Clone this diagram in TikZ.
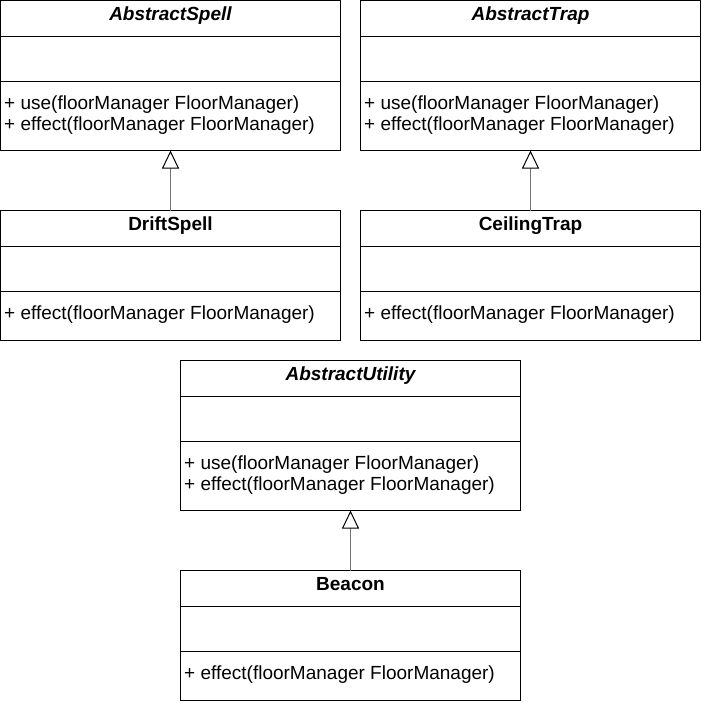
\documentclass[tikz,border=0pt]{standalone}
\usepackage{fontspec}
\setmainfont{Liberation Sans}
\usetikzlibrary{arrows.meta}
\tikzset{
  box/.style={draw=black, line width=1pt, inner sep=0pt, outer sep=0pt, minimum width=340pt, anchor=north west},
  titlebox/.style={box, minimum height=36pt},
  attrbox/.style={box, minimum height=44.5pt},
  absmeth/.style={box, minimum height=69.5pt},
  childmeth/.style={box, minimum height=49pt},
  abstitle/.style={anchor=base, inner sep=0pt, font=\fontsize{19}{21}\selectfont\bfseries\itshape},
  ctitle/.style={anchor=base, inner sep=0pt, font=\fontsize{19}{21}\selectfont\bfseries},
  meth/.style={anchor=base west, inner sep=0pt, font=\fontsize{19}{21}\selectfont},
  inh/.style={draw=black!55, line width=1pt, -{Triangle[length=18pt, width=17pt, fill=white, color=black, line width=1pt]}}
}
\begin{document}
\begin{tikzpicture}[x=1pt, y=-1pt]
\useasboundingbox (0,0) rectangle (702,702);
% AbstractSpell
\node[titlebox] (sT) at (0.5,0.5) {};
\node[attrbox] (sA) at (sT.south west) {};
\node[absmeth] (sM) at (sA.south west) {};
\node[abstitle] (sTt) at (170.5,20) {AbstractSpell};
\node[meth] (sM1) at (4,109) {+ use(floorManager FloorManager)};
\node[meth] (sM2) at (4,130.5) {+ effect(floorManager FloorManager)};
% AbstractTrap
\node[titlebox] (tT) at (360.5,0.5) {};
\node[attrbox] (tA) at (tT.south west) {};
\node[absmeth] (tM) at (tA.south west) {};
\node[abstitle] (tTt) at (530.5,20) {AbstractTrap};
\node[meth] (tM1) at (364,109) {+ use(floorManager FloorManager)};
\node[meth] (tM2) at (364,130.5) {+ effect(floorManager FloorManager)};
% DriftSpell
\node[titlebox] (dT) at (0.5,210.5) {};
\node[attrbox] (dA) at (dT.south west) {};
\node[childmeth] (dM) at (dA.south west) {};
\node[ctitle] (dTt) at (170.5,230.5) {DriftSpell};
\node[meth] (dM1) at (4,319.5) {+ effect(floorManager FloorManager)};
% CeilingTrap
\node[titlebox] (cT) at (360.5,210.5) {};
\node[attrbox] (cA) at (cT.south west) {};
\node[childmeth] (cM) at (cA.south west) {};
\node[ctitle] (cTt) at (530.5,230.5) {CeilingTrap};
\node[meth] (cM1) at (364,319.5) {+ effect(floorManager FloorManager)};
% AbstractUtility
\node[titlebox] (uT) at (180.5,360.5) {};
\node[attrbox] (uA) at (uT.south west) {};
\node[absmeth] (uM) at (uA.south west) {};
\node[abstitle] (uTt) at (350.5,380) {AbstractUtility};
\node[meth] (uM1) at (184,469) {+ use(floorManager FloorManager)};
\node[meth] (uM2) at (184,490.5) {+ effect(floorManager FloorManager)};
% Beacon
\node[titlebox] (bT) at (180.5,570.5) {};
\node[attrbox] (bA) at (bT.south west) {};
\node[childmeth] (bM) at (bA.south west) {};
\node[ctitle] (bTt) at (350.5,590.5) {Beacon};
\node[meth] (bM1) at (184,679.5) {+ effect(floorManager FloorManager)};
% inheritance
\draw[inh] (dT.north) -- (sM.south);
\draw[inh] (cT.north) -- (tM.south);
\draw[inh] (bT.north) -- (uM.south);
\end{tikzpicture}
\end{document}
